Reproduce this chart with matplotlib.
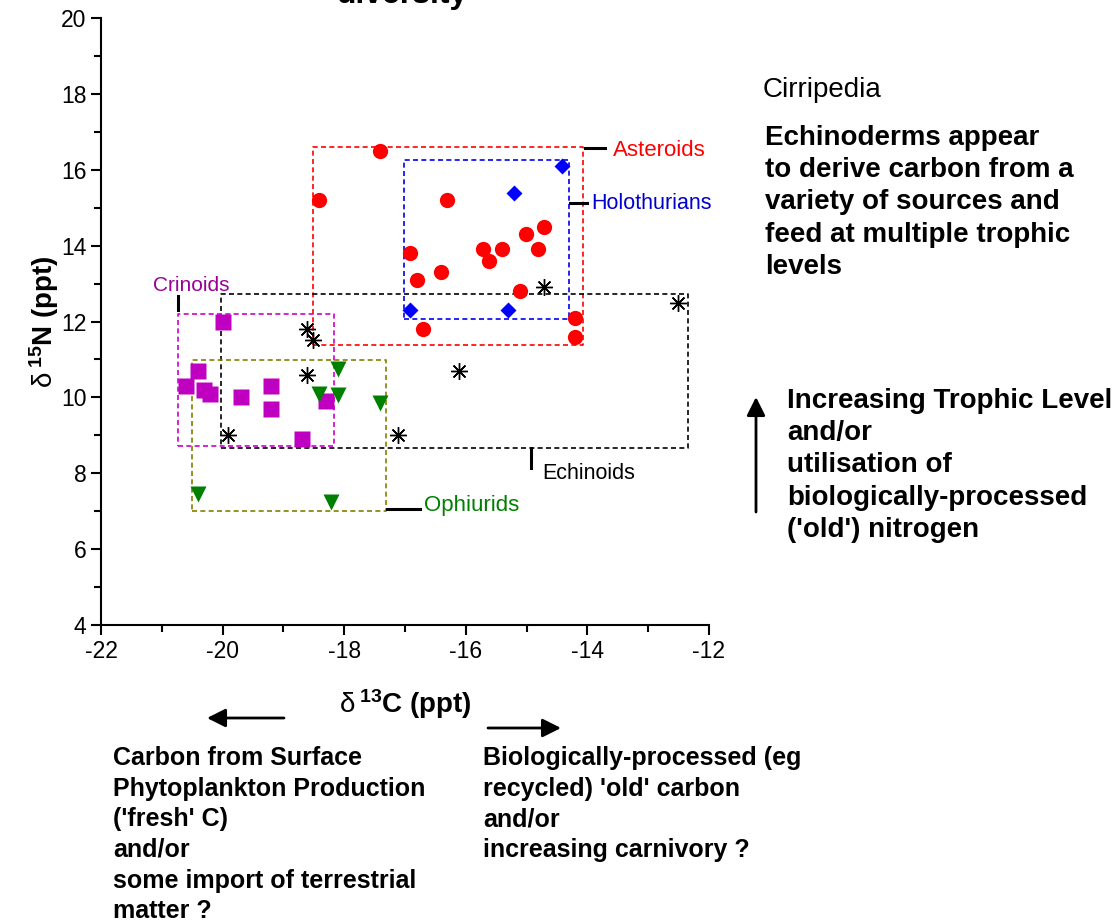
import matplotlib
matplotlib.use("Agg")
import matplotlib.pyplot as plt

plt.rcParams['font.family'] = ['Liberation Sans', 'DejaVu Sans']
plt.rcParams['mathtext.fontset'] = 'custom'
plt.rcParams['mathtext.rm'] = 'Liberation Sans'
plt.rcParams['mathtext.bf'] = 'Liberation Sans:bold'
plt.rcParams['mathtext.it'] = 'Liberation Sans:italic'
plt.rcParams['axes.unicode_minus'] = False

# d13C / d15N values
asteroid_x = [-17.41, -18.41, -16.31, -16.92, -16.80, -16.41, -15.72, -15.62,
              -15.40, -15.01, -14.71, -14.81, -15.11, -16.70, -14.20, -14.20]
asteroid_y = [16.5, 15.2, 15.2, 13.8, 13.1, 13.3, 13.9, 13.6,
              13.9, 14.3, 14.5, 13.9, 12.8, 11.8, 12.1, 11.6]
holo_x = [-14.42, -15.21, -16.91, -15.31]
holo_y = [16.1, 15.4, 12.3, 12.3]
echinoid_x = [-14.71, -18.62, -18.51, -18.62, -16.12, -19.91, -17.11, -12.51]
echinoid_y = [12.9, 11.8, 11.5, 10.6, 10.7, 9.0, 9.0, 12.5]
crinoid_x = [-20.0, -20.40, -20.61, -20.30, -20.20, -19.70, -19.20, -19.20, -18.30, -18.70]
crinoid_y = [12.0, 10.7, 10.3, 10.2, 10.1, 10.0, 10.3, 9.7, 9.9, 8.9]
ophiurid_x = [-18.11, -18.41, -18.11, -17.41, -20.40, -18.21]
ophiurid_y = [10.75, 10.1, 10.05, 9.85, 7.45, 7.25]

# group ranges drawn as dashed boxes: (xmin, xmax, ymin, ymax)
box_asteroids = (-18.52, -14.07, 11.38, 16.6)
box_holothurians = (-17.02, -14.30, 12.07, 16.26)
box_echinoids = (-20.03, -12.35, 8.67, 12.73)
box_crinoids = (-20.73, -18.17, 8.73, 12.2)
box_ophiurids = (-20.51, -17.31, 7.01, 10.99)

fig = plt.figure(figsize=(11.19, 9.22), dpi=100)
ax = fig.add_axes([0.0903, 0.3221, 0.5433, 0.6584])


def draw_box(b, color):
    x0, x1, y0, y1 = b
    ax.plot([x0, x1, x1, x0, x0], [y0, y0, y1, y1, y0], ls=(0, (3, 2)),
            color=color, lw=1.2, zorder=1)


draw_box(box_asteroids, '#ff0000')
draw_box(box_holothurians, '#0000ee')
draw_box(box_echinoids, 'black')
draw_box(box_crinoids, '#cc00cc')
draw_box(box_ophiurids, '#808000')

ax.plot(asteroid_x, asteroid_y, 'o', color='#ff0000', ms=11, mec='none', zorder=3)
ax.plot(holo_x, holo_y, 'D', color='#0000ff', ms=8.5, mec='none', zorder=3)
ax.plot(echinoid_x, echinoid_y, ls='none', marker=(8, 2, 0), color='black',
        ms=12, mew=1.0, zorder=3)
ax.plot(crinoid_x, crinoid_y, 's', color='#c000c0', ms=11, mec='none', zorder=3)
ax.plot(ophiurid_x, ophiurid_y, 'v', color='#008000', ms=11, mec='none', zorder=3)

# leader lines and group labels
ax.plot([-14.04, -13.71], [16.57, 16.57], color='black', lw=2.2)
ax.text(-13.58, 16.52, 'Asteroids', color='#ff0000', fontsize=16, va='center')
ax.plot([-14.29, -14.01], [15.13, 15.13], color='black', lw=2.2)
ax.text(-13.94, 15.1, 'Holothurians', color='#0000cc', fontsize=15.5, va='center')
ax.plot([-20.73, -20.73], [12.30, 12.66], color='black', lw=2.2)
ax.text(-20.52, 12.96, 'Crinoids', color='#990099', fontsize=15, ha='center', va='center')
ax.plot([-14.93, -14.93], [8.14, 8.67], color='black', lw=2.2)
ax.text(-14.75, 8.0, 'Echinoids', color='black', fontsize=15.5, va='center')
ax.plot([-17.30, -16.75], [7.06, 7.06], color='black', lw=2.2)
ax.text(-16.68, 7.14, 'Ophiurids', color='#008000', fontsize=16, va='center')

ax.set_xlim(-22, -12)
ax.set_ylim(4, 20)
ax.set_xticks([-22, -20, -18, -16, -14, -12])
ax.set_xticks([-21, -19, -17, -15, -13], minor=True)
ax.set_yticks([4, 6, 8, 10, 12, 14, 16, 18, 20])
ax.set_yticks([5, 7, 9, 11, 13, 15, 17, 19], minor=True)
ax.tick_params(which='major', length=7, width=1.5, labelsize=16.5, direction='out')
ax.tick_params(which='minor', length=5, width=1.5, direction='out')
for s in ['top', 'right']:
    ax.spines[s].set_visible(False)
for s in ['left', 'bottom']:
    ax.spines[s].set_linewidth(1.5)

ax.set_xlabel(r'$\mathrm{\delta}^{\;\mathbf{13}}\mathbf{C\ (ppt)}$', fontsize=20, labelpad=18)
ax.set_ylabel(r'$\mathrm{\delta}^{\;\mathbf{15}}\mathbf{N\ (ppt)}$', fontsize=20, labelpad=0)

# title, clipped at the top edge of the picture
fig.text(402 / 1119, 1 - 3 / 922, 'diversity', fontsize=23, fontweight='bold',
         ha='center', va='baseline')

fig.text(763 / 1119, 1 - 90 / 922, 'Cirripedia', fontsize=20, va='center')
fig.text(765 / 1119, 1 - 125 / 922,
         'Echinoderms appear\nto derive carbon from a\nvariety of sources and\n'
         'feed at multiple trophic\nlevels',
         fontsize=20, fontweight='bold', va='top', linespacing=1.31)
fig.text(787 / 1119, 1 - 388 / 922,
         "Increasing Trophic Level\nand/or\nutilisation of\n"
         "biologically-processed\n('old') nitrogen",
         fontsize=20, fontweight='bold', va='top', linespacing=1.31)

fig.text(113 / 1119, 1 - 746 / 922,
         "Carbon from Surface\nPhytoplankton Production\n('fresh' C)\nand/or\n"
         "some import of terrestrial\nmatter ?",
         fontsize=18, fontweight='bold', va='top', linespacing=1.35)
fig.text(483 / 1119, 1 - 746 / 922,
         "Biologically-processed (eg\nrecycled) 'old' carbon\nand/or\n"
         "increasing carnivory ?",
         fontsize=18, fontweight='bold', va='top', linespacing=1.35)

# arrows, positions as figure fractions
arrow = dict(arrowstyle='-|>', color='black', lw=2, mutation_scale=28, shrinkA=0, shrinkB=0)
ax.annotate('', xy=(207 / 1119, 1 - 718 / 922), xytext=(284 / 1119, 1 - 718 / 922),
            xycoords='figure fraction', textcoords='figure fraction', arrowprops=arrow)
ax.annotate('', xy=(561 / 1119, 1 - 728 / 922), xytext=(488 / 1119, 1 - 728 / 922),
            xycoords='figure fraction', textcoords='figure fraction', arrowprops=arrow)
ax.annotate('', xy=(756 / 1119, 1 - 397 / 922), xytext=(756 / 1119, 1 - 512 / 922),
            xycoords='figure fraction', textcoords='figure fraction', arrowprops=arrow)

plt.savefig('out.png', dpi=100)
